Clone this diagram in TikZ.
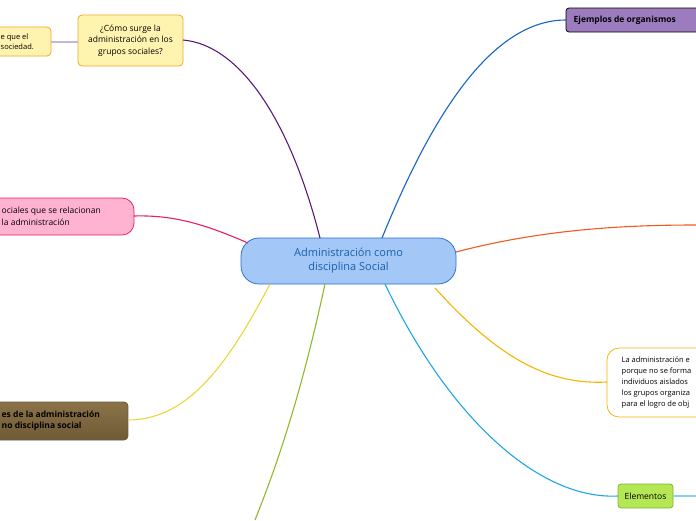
\documentclass[tikz,border=0pt]{standalone}
\usepackage{fontspec}
\setmainfont{Open Sans}
\tikzset{every picture/.style={line width=0.75pt}}
\tikzset{
  topic/.style={draw, rounded corners=5pt, align=center, inner sep=3pt, font=\fontsize{8.5}{11}\selectfont},
  link/.style={line width=1.1pt},
}
\begin{document}
\begin{tikzpicture}[x=1pt,y=1pt,yscale=-1]
\useasboundingbox (0,0) rectangle (696,520);
\clip (0,0) rectangle (696,520);

% Main node
\draw [draw={rgb,255:red,40;green,110;blue,200}, fill={rgb,255:red,163;green,200;blue,247}, rounded corners=18pt] (241,238) rectangle (456,284);
\node (main) [align=center, text={rgb,255:red,25;green,95;blue,170}, font=\fontsize{11}{14}\selectfont] at (348.5,261) {Administración como\\disciplina Social};
\coordinate (mT1) at (320,238);
\coordinate (mT2) at (382,238);
\coordinate (mL) at (248,243);
\coordinate (mR) at (456,252);
\coordinate (mB1) at (270,284);
\coordinate (mB2) at (325,284);
\coordinate (mB3) at (385,284);
\coordinate (mB4) at (435,288);

% Question
\draw [draw={rgb,255:red,245;green,166;blue,35}, fill={rgb,255:red,255;green,243;blue,176}, rounded corners=4pt] (78,15) rectangle (183,66);
\node (q) [align=center, font=\fontsize{8.5}{11.5}\selectfont] at (130.5,40.5) {¿Cómo surge la\\administración en los\\grupos sociales?};
\draw [draw={rgb,255:red,245;green,166;blue,35}, fill={rgb,255:red,255;green,243;blue,176}, rounded corners=4pt] (-10,27) rectangle (51,56);
\node (qs) [align=left, anchor=west, font=\fontsize{7.5}{10}\selectfont] at (-3,41.5) {e que el\\sociedad.};

% Pink
\draw [draw={rgb,255:red,233;green,30;blue,99}, fill={rgb,255:red,255;green,179;blue,209}, rounded corners=12pt] (-30,198) rectangle (134,235);
\node (pink) [align=left, anchor=west, font=\fontsize{8.5}{11.5}\selectfont] at (-2,216.5) {ociales que se relacionan\\ la administración};

% Brown
\draw [draw={rgb,255:red,110;green,90;blue,55}, top color={rgb,255:red,140;green,115;blue,72}, bottom color={rgb,255:red,110;green,90;blue,55}, rounded corners=4pt] (-30,402) rectangle (128,440);
\node (brown) [align=left, anchor=west, font=\bfseries\fontsize{8.5}{11.5}\selectfont] at (-2,421) {es de la administración\\no disciplina social};

% Purple
\draw [draw=black, fill={rgb,255:red,157;green,123;blue,191}, rounded corners=3pt] (566,8) rectangle (710,32);
\node (purple) [anchor=west, font=\bfseries\fontsize{8.5}{11}\selectfont] at (570,20) {Ejemplos de organismos};

% Right text
\draw [draw={rgb,255:red,245;green,180;blue,0}, fill=white, rounded corners=12pt] (607,348) rectangle (720,417);
\node (rtext) [align=left, anchor=west, font=\fontsize{7.5}{11}\selectfont] at (618,382.5) {La administración e\\porque no se forma\\individuos aislados\\los grupos organiza\\para el logro de obj};

% Elementos
\draw [draw={rgb,255:red,124;green,184;blue,47}, fill={rgb,255:red,181;green,230;blue,85}, rounded corners=3pt] (618,484) rectangle (673,508);
\node (elem) [font=\fontsize{8.5}{11}\selectfont] at (645.5,496) {Elementos};

% Connections
\draw [link, draw={rgb,255:red,91;green,26;blue,122}] (mT1) .. controls (290,120) and (240,45) .. (183,40);
\draw [link, draw={rgb,255:red,200;green,180;blue,220}] (78,42) -- (51,42);
\draw [link, draw={rgb,255:red,233;green,30;blue,99}] (mL) .. controls (200,222) and (170,215) .. (134,216);
\draw [link, draw={rgb,255:red,229;green,217;blue,58}] (mB1) .. controls (230,360) and (190,420) .. (128,420);
\draw [link, draw={rgb,255:red,143;green,184;blue,42}] (mB2) .. controls (300,400) and (275,470) .. (255,520);
\draw [link, draw={rgb,255:red,23;green,99;blue,198}] (mT2) .. controls (430,120) and (490,20) .. (566,20);
\draw [link, draw={rgb,255:red,240;green,90;blue,34}] (mR) .. controls (540,230) and (620,225) .. (696,225);
\draw [link, draw={rgb,255:red,245;green,180;blue,0}] (mB4) .. controls (500,360) and (550,385) .. (607,382);
\draw [link, draw={rgb,255:red,30;green,165;blue,230}] (mB3) .. controls (450,420) and (540,500) .. (618,496);
\draw [link, draw={rgb,255:red,140;green,210;blue,240}] (673,496) -- (696,496);
\end{tikzpicture}
\end{document}
